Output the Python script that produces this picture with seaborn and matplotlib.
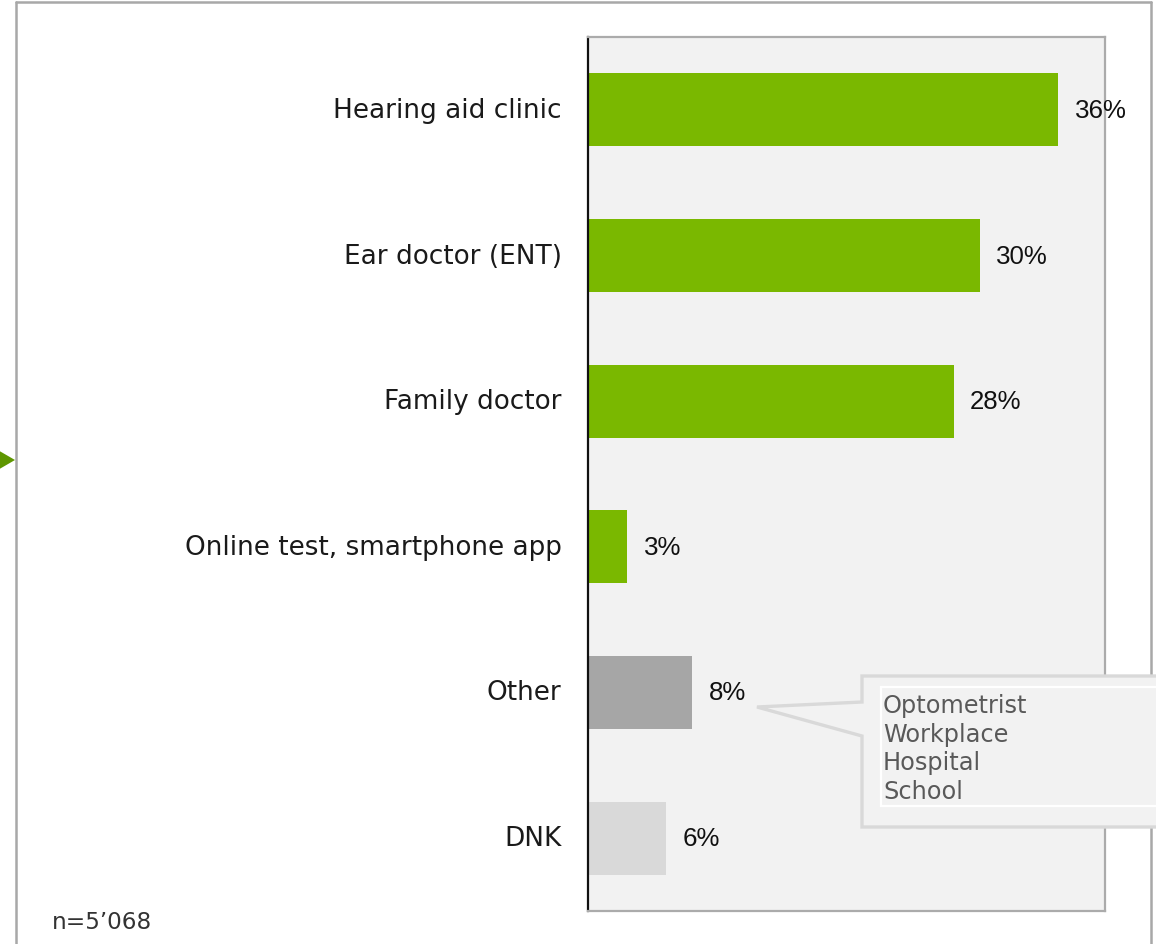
import matplotlib
matplotlib.use("Agg")
import matplotlib.pyplot as plt
from matplotlib.patches import Polygon, Rectangle
import seaborn as sns
import pandas as pd

# Where did you get your hearing tested?
categories = ["Hearing aid clinic", "Ear doctor (ENT)", "Family doctor",
              "Online test, smartphone app", "Other", "DNK"]
shares = [36, 30, 28, 3, 8, 6]
bar_colors = ["#7AB800", "#7AB800", "#7AB800", "#7AB800", "#A6A6A6", "#D9D9D9"]
other_details = ["Optometrist", "Workplace", "Hospital", "School"]
sample_note = "n=5\u2019068"

W, H = 1156, 945
sns.set_theme(style="white")
plt.rcParams["font.family"] = ["DejaVu Sans"]

df = pd.DataFrame({"category": categories, "share": shares})

fig = plt.figure(figsize=(W / 100, H / 100), dpi=100)
ax = fig.add_axes([588 / W, 1 - 912 / H, (1105 - 588) / W, (912 - 38) / H])
ax.set_facecolor("#F2F2F2")

sns.barplot(data=df, x="share", y="category", hue="category",
            palette=bar_colors, orient="h", width=0.5, saturation=1,
            linewidth=0, legend=False, ax=ax)

ax.set_xlim(0, 39.6)
ax.set_ylim(len(categories) - 0.5, -0.5)
ax.set_xlabel("")
ax.set_ylabel("")
ax.set_xticks([])
ax.tick_params(axis="y", length=0, pad=19, labelsize=18.9, labelcolor="#1A1A1A")
for lbl in ax.get_yticklabels():
    lbl.set_va("center")

for side in ["top", "right", "bottom"]:
    ax.spines[side].set_color("#ABABAB")
    ax.spines[side].set_linewidth(1.6)
ax.spines["left"].set_color("#111111")
ax.spines["left"].set_linewidth(1.6)

for i, v in enumerate(shares):
    ax.annotate(f"{v}%", xy=(v, i), xytext=(12, 0), textcoords="offset points",
                va="center", ha="left", fontsize=18.6,
                family=["Liberation Sans", "DejaVu Sans"], color="#111111",
                zorder=6)


def px(x, y):
    """Pixel position (from top-left) to figure fraction."""
    return (x / W, 1 - y / H)


# outer frame of the slide panel
frame_color = "#A8A8A8"
fig.add_artist(plt.Line2D([16 / W, 16 / W], [0, 1 - 3 / H], transform=fig.transFigure,
                          color=frame_color, lw=1.8))
fig.add_artist(plt.Line2D([16 / W, 1151 / W], [1 - 3 / H, 1 - 3 / H],
                          transform=fig.transFigure, color=frame_color, lw=1.8))
fig.add_artist(plt.Line2D([1151 / W, 1151 / W], [0, 1 - 3 / H], transform=fig.transFigure,
                          color=frame_color, lw=1.8))

# arrow marker on the left edge
fig.add_artist(Polygon([px(-4, 450), px(15, 461), px(-4, 472)], closed=True,
                       transform=fig.transFigure, facecolor="#5E9600",
                       edgecolor="none"))

# callout listing what "Other" contains
callout = [px(862, 677), px(1175, 677), px(1175, 828), px(862, 828),
           px(862, 737), px(757, 708), px(862, 703)]
fig.add_artist(Polygon(callout, closed=True, transform=fig.transFigure,
                       facecolor="#F2F2F2", edgecolor="#D9D9D9", lw=2.4,
                       joinstyle="miter", zorder=10))
x0, y0 = px(881, 807)
fig.add_artist(Rectangle((x0, y0), (1175 - 881) / W, (807 - 688) / H,
                         transform=fig.transFigure, facecolor="#F2F2F2",
                         edgecolor="white", lw=1.6, zorder=11))
fig.text(883 / W, 1 - 694 / H, "\n".join(other_details), ha="left", va="top",
         fontsize=17.3, color="#595959", linespacing=1.24, zorder=12)

fig.text(52 / W, 1 - 923 / H, sample_note, ha="left", va="center",
         fontsize=16.7, color="#333333")

fig.savefig("out.png", dpi=100)
